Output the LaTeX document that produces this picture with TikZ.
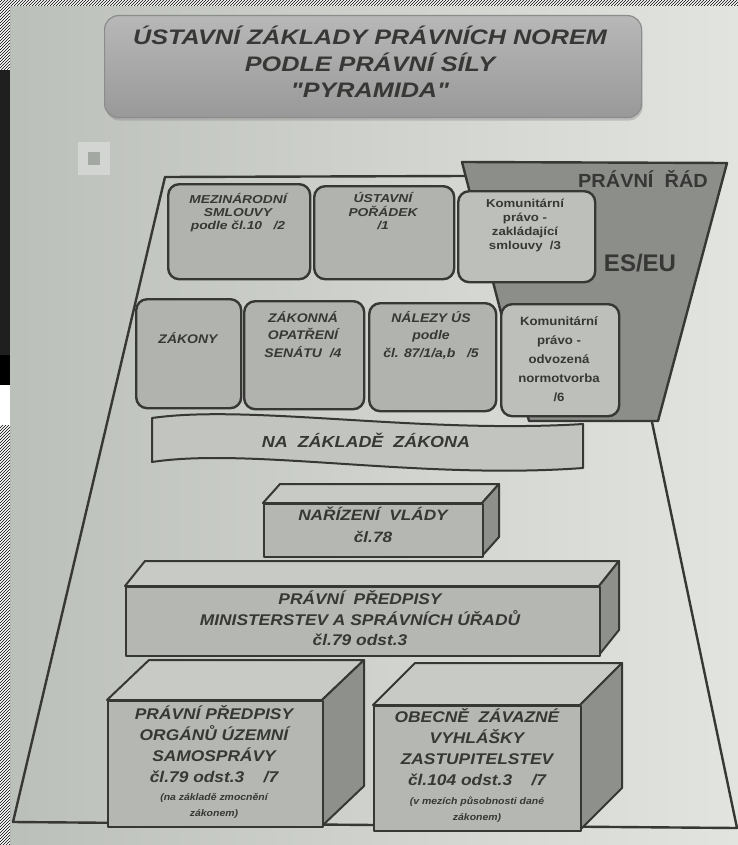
\documentclass[tikz,border=0pt]{standalone}
\usepackage{fontspec}
\setmainfont{Liberation Sans}
\newfontfamily\plainq{Liberation Sans}
\usepackage{graphicx}
\usetikzlibrary{patterns,shadows}

\definecolor{bgL}{HTML}{BBBFB9}
\definecolor{bgR}{HTML}{E2E4E0}
\definecolor{ink}{HTML}{373835}
\definecolor{boxF}{HTML}{B1B3AE}
\definecolor{boxL}{HTML}{BDBFBA}
\definecolor{esF}{HTML}{8C8E8A}
\definecolor{cubeF}{HTML}{B5B7B2}
\definecolor{cubeT}{HTML}{C8CAC5}
\definecolor{cubeS}{HTML}{8E908B}
\definecolor{banF}{HTML}{C2C4BF}

\newcommand\TB[2]{\scalebox{#1}[1]{\begin{tabular}{@{}c@{}}#2\end{tabular}}}

\begin{document}
\begin{tikzpicture}[x=1pt,y=-1pt,line join=round,
  rbox/.style={draw=ink,line width=2.4pt,rounded corners=11pt,fill=boxF,anchor=north west,inner sep=0pt},
  tx/.style={text=ink,align=center,inner sep=0pt,anchor=center},
  face/.style={draw=ink,line width=2pt},
  front/.style={draw=ink,line width=2pt,fill=cubeF,anchor=north west,inner sep=0pt},
  strong/.style={draw=ink,line width=2.4pt}]

% background and scan artefacts
\useasboundingbox (0,0) rectangle (738,845);
\shade[left color=bgL,right color=bgR] (0,0) rectangle (738,845);
\fill[white] (0,0) rectangle (738,6);
\fill[pattern=north east lines,pattern color=black] (0,0) rectangle (738,6);
\fill[white] (0,0) rectangle (10,70);
\fill[pattern=north east lines,pattern color=black] (0,0) rectangle (10,70);
\fill[black!88] (0,70) rectangle (10,355);
\fill[black] (0,355) rectangle (10,385);
\fill[white] (0,385) rectangle (10,425);
\fill[white] (0,425) rectangle (10,845);
\fill[pattern=north east lines,pattern color=black] (0,425) rectangle (10,845);
\fill[white!35!bgL] (78,142) rectangle (110,175);
\fill[black!12!bgL] (88,152) rectangle (100,165);

% title
\node[draw=black!45,line width=1.2pt,rounded corners=14pt,minimum width=537pt,minimum height=102pt,
  anchor=north west,top color=black!28,bottom color=black!40,
  drop shadow={shadow xshift=1pt,shadow yshift=-3pt,opacity=0.35}] (title) at (104,15) {};
\node[tx,font=\plainq\fontsize{21}{26.5}\selectfont\bfseries\itshape] (titletext) at (370,66)
  {\TB{1.2}{ÚSTAVNÍ ZÁKLADY PRÁVNÍCH NOREM\\PODLE PRÁVNÍ SÍLY\\"PYRAMIDA"}};

% pyramid outline
\coordinate (pTL) at (165,177);
\coordinate (pTR) at (466,176);
\coordinate (pBL) at (13,822);
\coordinate (pBR) at (737,828);
\coordinate (pRS) at (652,422);
\draw[strong] (pTR) -- (pTL) -- (pBL) -- (pBR) -- (pRS);

% ES/EU legal order
\filldraw[strong,fill=esF] (462,162) -- (727,163) -- (658,421) -- (529,421) -- cycle;
\node[tx,font=\fontsize{19}{22}\selectfont\bfseries] (prad) at (643,182) {\TB{1.05}{PRÁVNÍ~~ŘÁD}};
\node[tx,font=\fontsize{24}{26}\selectfont\bfseries] (eseu) at (640,263) {ES/EU};

% row 1
\node[rbox,minimum width=142pt,minimum height=95pt] (m1) at (167,183) {};
\node[tx,font=\fontsize{11.5}{13}\selectfont\bfseries\itshape] (m1t) at (238,213)
  {\TB{1.2}{MEZINÁRODNÍ\\SMLOUVY\\podle čl.10~~~/2}};
\node[rbox,minimum width=140pt,minimum height=93pt] (m2) at (313,185) {};
\node[tx,font=\fontsize{11.5}{13}\selectfont\bfseries\itshape] (m2t) at (383,213)
  {\TB{1.2}{ÚSTAVNÍ\\POŘÁDEK\\/1}};
\node[rbox,fill=boxL,minimum width=137pt,minimum height=91pt] (m3) at (457,190) {};
\node[tx,font=\fontsize{11.5}{14}\selectfont\bfseries] (m3t) at (525,226)
  {\TB{1.15}{Komunitární\\právo -\\zakládající\\smlouvy~~/3}};

% row 2
\node[rbox,minimum width=105pt,minimum height=109pt] (z1) at (135,298) {};
\node[tx,font=\fontsize{12.5}{17.5}\selectfont\bfseries\itshape] (z1t) at (188,340) {\TB{1.12}{ZÁKONY}};
\node[rbox,minimum width=120pt,minimum height=108pt] (z2) at (243,300) {};
\node[tx,font=\fontsize{12.5}{17.5}\selectfont\bfseries\itshape] (z2t) at (303,336)
  {\TB{1.12}{ZÁKONNÁ\\OPATŘENÍ\\SENÁTU~~/4}};
\node[rbox,minimum width=127pt,minimum height=108pt] (z3) at (368,302) {};
\node[tx,font=\fontsize{12.5}{17.5}\selectfont\bfseries\itshape] (z3t) at (431,336)
  {\TB{1.12}{NÁLEZY ÚS\\podle\\čl. 87/1/a,b~~~/5}};
\node[rbox,fill=boxL,minimum width=118pt,minimum height=112pt] (z4) at (500,303) {};
\node[tx,font=\fontsize{12}{19}\selectfont\bfseries] (z4t) at (559,360)
  {\TB{1.1}{Komunitární\\právo -\\odvozená\\normotvorba\\/6}};

% banner
\filldraw[strong,line width=2pt,fill=banF] (152,418) .. controls (250,404) and (420,434) .. (583,424)
  -- (583,468) .. controls (420,480) and (250,447) .. (152,462) -- cycle;
\node[tx,font=\fontsize{16}{18}\selectfont\bfseries\itshape] (ban) at (366,443) {\TB{1.12}{NA~~ZÁKLADĚ~~ZÁKONA}};

% cube: narizeni vlady
\filldraw[face,fill=cubeT] (263,503) -- (280,484) -- (499,484) -- (482,503) -- cycle;
\filldraw[face,fill=cubeS] (482,503) -- (499,484) -- (499,537) -- (482,556) -- cycle;
\node[front,minimum width=219pt,minimum height=53pt] (nv) at (263,503) {};
\node[tx,font=\fontsize{15}{22}\selectfont\bfseries\itshape] (nvt) at (373,527)
  {\TB{1.15}{NAŘÍZENÍ~~VLÁDY\\čl.78}};

% cube: ministerstva
\filldraw[face,fill=cubeT] (125,586) -- (145,561) -- (619,561) -- (599,586) -- cycle;
\filldraw[face,fill=cubeS] (599,586) -- (619,561) -- (619,630) -- (599,655) -- cycle;
\node[front,minimum width=474pt,minimum height=69pt] (min) at (125,586) {};
\node[tx,font=\fontsize{15.5}{19.5}\selectfont\bfseries\itshape] (mint) at (360,621)
  {\TB{1.12}{PRÁVNÍ~~PŘEDPISY\\MINISTERSTEV A SPRÁVNÍCH ÚŘADŮ\\čl.79 odst.3}};

% cube: samosprava
\filldraw[face,fill=cubeT] (107,700) -- (149,660) -- (364,660) -- (322,700) -- cycle;
\filldraw[face,fill=cubeS] (322,700) -- (364,660) -- (364,786) -- (322,826) -- cycle;
\node[front,minimum width=215pt,minimum height=126pt] (sam) at (107,700) {};
\node[tx,font=\fontsize{15.5}{21}\selectfont\bfseries\itshape] (samt) at (214,747)
  {\TB{1.12}{PRÁVNÍ PŘEDPISY\\ORGÁNŮ ÚZEMNÍ\\SAMOSPRÁVY\\čl.79 odst.3~~~~/7}};
\node[tx,font=\fontsize{9.5}{16}\selectfont\bfseries\itshape] (sams) at (214,805)
  {\TB{1.1}{(na základě zmocnění\\zákonem)}};

% cube: vyhlasky
\filldraw[face,fill=cubeT] (373,705) -- (415,663) -- (622,663) -- (580,705) -- cycle;
\filldraw[face,fill=cubeS] (580,705) -- (622,663) -- (622,788) -- (580,830) -- cycle;
\node[front,minimum width=207pt,minimum height=125pt] (vyh) at (373,705) {};
\node[tx,font=\fontsize{15.5}{21}\selectfont\bfseries\itshape] (vyht) at (477,750)
  {\TB{1.12}{OBECNĚ~~ZÁVAZNÉ\\VYHLÁŠKY\\ZASTUPITELSTEV\\čl.104 odst.3~~~~/7}};
\node[tx,font=\fontsize{9.5}{16}\selectfont\bfseries\itshape] (vyhs) at (477,809)
  {\TB{1.1}{(v mezích působnosti dané\\zákonem)}};
\end{tikzpicture}
\end{document}
